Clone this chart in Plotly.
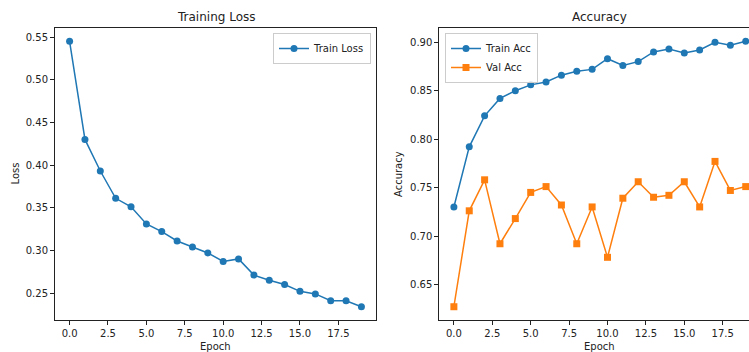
import plotly.graph_objects as go

epochs = list(range(20))
train_loss = [0.545, 0.430, 0.393, 0.361, 0.351, 0.331, 0.322, 0.311, 0.304, 0.297,
              0.287, 0.290, 0.271, 0.265, 0.260, 0.252, 0.249, 0.241, 0.241, 0.234]
train_acc = [0.730, 0.792, 0.824, 0.842, 0.850, 0.856, 0.859, 0.866, 0.870, 0.872,
             0.883, 0.876, 0.880, 0.890, 0.893, 0.889, 0.892, 0.900, 0.897, 0.901]
val_acc = [0.627, 0.726, 0.758, 0.692, 0.718, 0.745, 0.751, 0.732, 0.692, 0.730,
           0.678, 0.739, 0.756, 0.740, 0.742, 0.756, 0.730, 0.777, 0.747, 0.751]
x_ticks = [0, 2.5, 5, 7.5, 10, 12.5, 15, 17.5]
x_tick_labels = ["0.0", "2.5", "5.0", "7.5", "10.0", "12.5", "15.0", "17.5"]
loss_ticks = [0.25, 0.30, 0.35, 0.40, 0.45, 0.50, 0.55]
acc_ticks = [0.65, 0.70, 0.75, 0.80, 0.85, 0.90]

W, H = 749, 352
BLUE, ORANGE = "#1f77b4", "#ff7f0e"
FONT = "DejaVu Sans"

def px(x):
    return x / W

def py(y):
    return 1 - y / H

fig = go.Figure()
fig.add_trace(go.Scatter(x=epochs, y=train_loss, mode="lines+markers", name="Train Loss",
                         line=dict(color=BLUE, width=1.5), marker=dict(size=7, symbol="circle"),
                         xaxis="x", yaxis="y", legend="legend", cliponaxis=False))
fig.add_trace(go.Scatter(x=epochs, y=train_acc, mode="lines+markers", name="Train Acc",
                         line=dict(color=BLUE, width=1.5), marker=dict(size=7, symbol="circle"),
                         xaxis="x2", yaxis="y2", legend="legend2", cliponaxis=False))
fig.add_trace(go.Scatter(x=epochs, y=val_acc, mode="lines+markers", name="Val Acc",
                         line=dict(color=ORANGE, width=1.5), marker=dict(size=7, symbol="square"),
                         xaxis="x2", yaxis="y2", legend="legend2", cliponaxis=False))

axis_common = dict(showline=True, linecolor="#222222", linewidth=1, ticks="outside",
                   ticklen=4, tickwidth=1, tickcolor="#222222", showgrid=False, zeroline=False,
                   tickfont=dict(family=FONT, size=10, color="#222222"), automargin=False)

ydom = [py(320), py(28)]
fig.update_layout(
    width=W, height=H, margin=dict(l=0, r=0, t=0, b=0),
    plot_bgcolor="white", paper_bgcolor="white",
    font=dict(family=FONT, size=10, color="#222222"),
    xaxis=dict(domain=[px(55), px(376)], range=[-0.95, 19.95], tickvals=x_ticks,
               ticktext=x_tick_labels, mirror=True, anchor="y", **axis_common),
    yaxis=dict(domain=ydom, range=[0.2184, 0.5606], tickvals=loss_ticks,
               ticktext=[f"{v:.2f}" for v in loss_ticks], mirror=True, anchor="x", **axis_common),
    xaxis2=dict(domain=[px(439.3), 1.0], range=[-0.95, (749 - 439.3) / 15.36 - 0.95],
                tickvals=x_ticks, ticktext=x_tick_labels, mirror=True, anchor="y2", **axis_common),
    yaxis2=dict(domain=ydom, range=[0.6133, 0.9147], tickvals=acc_ticks,
                ticktext=[f"{v:.2f}" for v in acc_ticks], mirror=False, anchor="x2", **axis_common),
    legend=dict(x=px(371), y=py(33), xanchor="right", yanchor="top",
                bgcolor="rgba(255,255,255,0.8)", bordercolor="#cccccc", borderwidth=1,
                font=dict(family=FONT, size=10)),
    legend2=dict(x=px(445), y=py(33), xanchor="left", yanchor="top",
                 bgcolor="rgba(255,255,255,0.8)", bordercolor="#cccccc", borderwidth=1,
                 font=dict(family=FONT, size=10)),
    showlegend=True,
)

annots = [
    dict(text="Training Loss", x=px(215.5), y=py(17.3), font=dict(size=12)),
    dict(text="Accuracy", x=px(599.5), y=py(17.3), font=dict(size=12)),
    dict(text="Epoch", x=px(215.5), y=py(346.5), font=dict(size=10)),
    dict(text="Epoch", x=px(599.5), y=py(346.5), font=dict(size=10)),
    dict(text="Loss", x=px(14.5), y=py(174), font=dict(size=10), textangle=-90),
    dict(text="Accuracy", x=px(398), y=py(174), font=dict(size=10), textangle=-90),
]
for a in annots:
    fig.add_annotation(xref="paper", yref="paper", showarrow=False,
                       xanchor="center", yanchor="middle", **a)

# remove the default page margin so the figure fills the 749x352 window exactly
fig.write_html("out.html",
               config={"displayModeBar": False},
               post_script="document.body.style.margin='0';document.body.style.overflow='hidden';"
                           "document.documentElement.style.overflow='hidden';")
